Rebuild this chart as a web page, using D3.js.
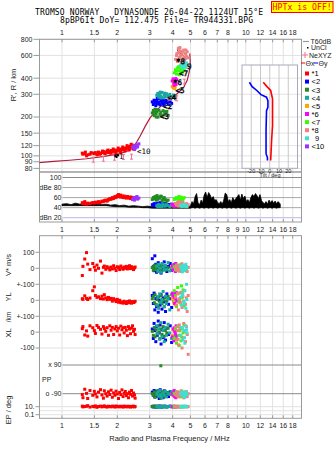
<!DOCTYPE html>
<html>
<head>
<meta charset="utf-8">
<script src="https://cdn.jsdelivr.net/npm/d3@7"></script>
<style>
  body { margin: 0; background: #fff; }
  svg { display: block; font-family: "Liberation Sans", Arial, sans-serif; }
  .mono { font-family: "DejaVu Sans Mono", monospace; white-space: pre; }
</style>
</head>
<body>
<div id="chart"></div>
<script>
// ---- data ----
const titleLine1 = "TROMSO NORWAY   DYNASONDE 26-04-22 1124UT 15°E";
const titleLine2 = "8pBP6It DoY= 112.475 File= TR944331.BPG";

const freqTicks = [1, 1.5, 2, 3, 4, 5, 6, 7, 8, 9, 10, 12, 14, 16, 18];
const freqLabels = ["1", "1.5", "2", "3", "4", "5", "6", "7", "8", "", "10", "12", "14", "16", "18"];
const freqLabelsMid = ["1", "1.5", "2", "3", "4", "5", "6", "7", "8", "9", "10", "12", "14", "16", "18"];
const heightTicks = [80, 90, 100, 120, 150, 200, 300, 400, 600, 800];
const dbTicks = [100, 80, 60, 40, 20];
const dbLabels = ["100", "dBe 80", "60", "40", "dBn 20"];
const tiltTicks = [-20, -10, 0, 10, 20];

const modeNames = ["*1", "<2", "<3", "<4", "<5", "*6", "<7", "*8", "9", "<10"];
const modeColors = ["#ff0000", "#0000ff", "#228b22", "#17a6a0", "#ffa500", "#ff00ff", "#33ff00", "#f08080", "#40e0d0", "#9933ff"];

// echoes: [freq MHz, R' km, dB, V* m/s, YL km, XL km, PP deg, EP deg]
// (short entries carry only freq, R' and dB)
const echo1 = [
  [1.29, 105, 50, -45, 10, 22, -95, 14], [1.30, 103, 48, 12, 6, 35, -115, 9],
  [1.33, 104, 52, 58, 28, -18, -62, 11], [1.36, 100, 47, 98, 12, 8, -88, 13],
  [1.38, 102, 49, 26, 5, -25, -120, 18], [1.42, 103, 48, -8, 14, 40, -70, 8],
  [1.47, 105, 50, 30, 60, 28, -100, 12], [1.50, 104, 49, 8, 84, 10, -75, 10],
  [1.52, 106, 51, -12, 30, -8, -92, 16], [1.55, 102, 50, 20, 18, 42, -110, 7],
  [1.58, 107, 52, 0, 22, 30, -80, 11], [1.62, 104, 51, 45, 10, 18, -65, 14],
  [1.65, 106, 53, -30, 26, -12, -98, 9], [1.68, 108, 52, 6, 8, 35, -118, 12],
  [1.70, 105, 54, 14, 35, 22, -72, 16], [1.73, 107, 55, -6, 15, 5, -90, 10],
  [1.76, 109, 53, 10, 4, 28, -105, 8], [1.79, 106, 56, 2, 18, -20, -78, 13],
  [1.82, 108, 58, -10, 6, 40, -95, 11], [1.85, 110, 57, 8, 12, 12, -68, 9],
  [1.88, 107, 60, -4, -5, 30, -112, 14], [1.91, 109, 59, 16, 10, -15, -85, 12],
  [1.94, 111, 62, 0, 2, 20, -100, 8], [1.97, 108, 61, -14, -8, 35, -74, 15],
  [2.00, 110, 64, 10, 6, 8, -92, 10], [2.03, 112, 66, 4, -12, 25, -120, 12],
  [2.06, 109, 63, -8, 0, -18, -82, 9], [2.09, 113, 65, 14, -15, 38, -96, 13],
  [2.12, 111, 62, 2, -10, 15, -66, 11], [2.15, 114, 60, -6, -18, 28, -108, 8],
  [2.18, 112, 63, 8, -6, -5, -88, 14], [2.21, 115, 61, 0, -14, 30, -76, 10],
  [2.24, 113, 59, 12, -20, 12, -102, 12], [2.27, 116, 62, -4, -8, -22, -90, 9],
  [2.30, 118, 60, 6, -16, 35, -115, 13], [2.33, 114, 61, 16, -4, 20, -80, 11],
  [2.36, 119, 58, -2, -12, -10, -94, 8], [2.39, 117, 60, 10, -18, 25, -70, 12],
  [2.42, 121, 59, 4, -8, 40, -105, 10], [2.45, 116, 57, -8, -14, 5, -86, 14],
  [2.48, 120, 60, 2, -10, 18, -98, 9], [2.50, 118, 58, 8, -6, -15, -118, 11],
  [1.34, 107, 48], [1.44, 106, 49], [1.60, 103, 50], [1.66, 109, 52], [1.72, 104, 54],
  [1.78, 111, 55], [1.84, 105, 57], [1.90, 113, 58], [1.96, 106, 60], [2.02, 115, 62],
  [2.08, 107, 61], [2.14, 117, 63], [2.20, 109, 60], [2.26, 120, 62], [2.32, 111, 59],
  [2.38, 123, 61], [2.44, 113, 58]
];
const echo2 = [
  [3.10, 262, 46, 60, 30, 20, -80, 12], [3.14, 250, 44, 10, -20, -40, -100, 9],
  [3.17, 270, 48, -15, 45, 55, -70, 14], [3.20, 258, 45, 78, -60, 10, -110, 11],
  [3.24, 245, 47, 25, 10, -60, -90, 8], [3.27, 266, 43, -25, -40, 35, -75, 13],
  [3.30, 255, 49, 5, 20, -20, -105, 10], [3.34, 276, 46, 35, -75, 70, -88, 12],
  [3.38, 260, 44, -10, 0, -5, -120, 9], [3.42, 248, 50, 15, -30, 45, -65, 15],
  [3.46, 268, 45, -30, 35, -75, -95, 11], [3.50, 256, 47, 20, -55, 15, -82, 8],
  [3.55, 272, 43, -5, 15, -35, -115, 12], [3.60, 252, 46, 40, -10, 60, -72, 10],
  [3.66, 264, 48, 0, -70, -50, -98, 13], [3.72, 258, 44, -20, 40, 25, -85, 9],
  [3.80, 250, 46, 12, -25, -15, -108, 11], [3.88, 262, 45, 30, 10, 40, -78, 14],
  [3.95, 255, 47, -12, -45, -65, -92, 10],
  [3.22, 268, 45], [3.36, 252, 47], [3.52, 262, 44], [3.68, 270, 46], [3.84, 258, 45],
  [3.30, 280, 44], [3.58, 246, 48]
];
const echo3 = [
  [3.10, 215, 56, 5, 10, 5, -90, 10], [3.14, 225, 60, -12, 25, -20, -100, 12],
  [3.18, 205, 58, 18, -15, 30, -78, 9], [3.21, 230, 62, 0, 35, -30, -112, 13],
  [3.25, 212, 55, -8, -25, 15, -85, 11], [3.29, 220, 64, 22, 5, -10, -95, 8],
  [3.33, 200, 57, -20, -35, 40, -70, 14], [3.37, 226, 61, 8, 20, 0, -105, 10],
  [3.41, 210, 59, -4, -10, -40, -88, 12], [3.45, 218, 63, 14, 30, 20, -118, 9],
  [3.50, 203, 54, -15, -20, -15, -80, 11], [3.55, 224, 58, 10, 0, 35, -98, 13],
  [3.60, 208, 60, -2, -40, -25, -74, 10], [3.65, 214, 56, 16, 15, 10, -108, 12],
  [3.72, 221, 53, -10, -5, -5, -90, 9], [3.78, 206, 55, 4, 25, 25, -82, 11],
  [3.16, 218, 59], [3.31, 228, 57], [3.47, 206, 62], [3.62, 220, 55], [3.26, 200, 60]
];
const echo4 = [
  [3.28, 295, 44, 12, -30, 40, -92, 10], [3.32, 305, 42, -18, 20, -10, -80, 12],
  [3.36, 285, 46, 25, -50, 20, -105, 9], [3.40, 300, 43, 0, 40, -45, -70, 13],
  [3.45, 290, 45, -25, -15, 60, -96, 11], [3.50, 310, 42, 30, 5, -30, -115, 8],
  [3.55, 282, 47, 8, 55, 10, -85, 14], [3.60, 298, 44, -12, -40, -60, -100, 10],
  [3.65, 288, 43, 18, 25, 30, -75, 12], [3.70, 303, 46, -6, -20, -20, -110, 9],
  [3.78, 292, 44, 36, 10, 50, -88, 11], [3.86, 300, 42, -16, -60, -5, -95, 13],
  [3.95, 286, 45, 4, 35, -40, -78, 10], [4.05, 296, 43, 22, -5, 15, -102, 12],
  [4.15, 290, 44, -8, 45, -25, -86, 9],
  [3.34, 294, 45], [3.48, 282, 43], [3.62, 306, 44], [3.42, 312, 42]
];
const echo5 = [
  [3.98, 345, 45, 10, 10, -20, -90, 10], [4.02, 338, 44, -5, 25, 15, -100, 12],
  [4.06, 350, 46, 20, -15, -35, -80, 9], [4.10, 332, 45, 0, 5, 30, -95, 11],
  [4.13, 342, 44, -15, -30, 0, -110, 10]
];
const echo6 = [
  [3.98, 380, 46, 15, 45, -30, -88, 11], [4.02, 395, 44, -10, 30, 20, -98, 9],
  [4.06, 365, 47, 5, 40, -55, -76, 13], [4.10, 388, 45, 25, -20, 5, -108, 10],
  [4.14, 372, 43, -20, 35, -10, -92, 12], [4.18, 358, 46, 0, 50, 40, -84, 9],
  [4.21, 390, 44, 12, -5, -25, -102, 11], [4.08, 352, 45, -5, 20, 25, -70, 12],
  [4.16, 398, 47, 30, 10, -45, -115, 10]
];
const echo7 = [
  [4.08, 440, 56, 10, 60, -40, -88, 11], [4.14, 465, 58, -8, 30, 20, -96, 9],
  [4.20, 430, 60, 20, -40, -70, -78, 13], [4.26, 480, 57, 0, 80, 35, -105, 10],
  [4.32, 455, 62, -15, -10, -20, -90, 12], [4.38, 495, 59, 5, 45, 10, -82, 9],
  [4.44, 445, 61, 25, -25, -55, -110, 11], [4.50, 470, 55, -10, 15, 25, -75, 13],
  [4.56, 488, 58, 12, 65, -5, -98, 10], [4.62, 460, 60, -5, -35, 45, -86, 12],
  [4.35, 425, 56, 18, 5, -85, -100, 9], [4.47, 500, 57, -20, 90, -30, -92, 11],
  [4.18, 455, 58], [4.30, 490, 57], [4.42, 470, 60], [4.54, 445, 56]
];
const echo8 = [
  [4.15, 560, 48, 8, 20, 30, -90, 10], [4.20, 600, 45, -12, -30, -50, -100, 12],
  [4.25, 540, 50, 20, 40, 10, -78, 9], [4.30, 630, 44, 0, -60, -80, -110, 13],
  [4.35, 580, 52, -18, 10, 45, -86, 11], [4.40, 650, 46, 12, -15, -20, -96, 8],
  [4.45, 530, 49, -6, 50, 20, -72, 12], [4.50, 610, 43, 28, -45, -100, -104, 10],
  [4.55, 570, 51, 4, 25, -35, -88, 11], [4.60, 660, 45, -14, -5, 55, -116, 9],
  [4.65, 550, 47, 16, 60, 5, -82, 13], [4.70, 620, 44, -4, -25, -60, -94, 10],
  [4.75, 590, 48, 10, 15, 35, -76, 12], [4.80, 640, 42, -20, -70, -15, -108, 9],
  [4.86, 575, 46, 6, 30, -140, -90, 11], [4.38, 690, 44, 2, -10, 25, -98, 10],
  [4.28, 545, 50, -8, 45, -45, -84, 12],
  [4.22, 620, 47], [4.32, 560, 45], [4.42, 600, 49], [4.52, 640, 44], [4.62, 580, 46],
  [4.72, 660, 45], [4.30, 680, 43]
];
const echo9 = [
  [4.42, 500, 44, 10, 20, -20, -92, 10], [4.48, 515, 42, -8, -30, 30, -80, 12],
  [4.54, 490, 46, 18, 45, -50, -104, 9], [4.60, 520, 43, 0, -10, 10, -88, 11],
  [4.66, 505, 45, -15, 60, -70, -112, 13], [4.72, 485, 42, 25, -50, 40, -76, 10],
  [4.78, 512, 44, 5, 5, -5, -96, 12], [4.52, 480, 43, -22, 30, 25, -84, 9],
  [4.64, 495, 46, 12, -20, -35, -100, 11], [4.76, 525, 43, -4, 100, 15, -90, 10]
];
const echo10 = [
  [2.42, 116, 56], [2.46, 120, 60], [2.50, 114, 58], [2.54, 122, 61],
  [2.58, 118, 57], [2.62, 124, 59], [2.48, 112, 55], [2.56, 117, 62]
];
const echoes = [echo1, echo2, echo3, echo4, echo5, echo6, echo7, echo8, echo9, echo10];

// one stray echo in the polarization row
const strayPP = [[3.45, 85]];

// mode labels placed on the traces
const labelText = ["*1", "<2", "<3", "<4", "<5", "*6", "<7", "*8", "9", "<10"];
const labelF = [1.93, 3.54, 3.41, 3.74, 4.14, 4.02, 4.33, 4.17, 4.79, 2.56];
const labelH = [99, 243, 205, 286, 322, 372, 437, 547, 497, 109];

// true height profile
const profF = [0.75, 0.9, 1.1, 1.36, 1.7, 2.07, 2.35, 2.45, 2.55, 2.66, 2.84, 3.02, 3.3, 3.57, 3.9, 4.23, 4.6, 4.8, 4.9, 4.97, 4.99, 4.96];
const profH = [88.5, 90.5, 92.5, 95, 99, 104, 111, 118, 128, 142, 170, 198, 228, 254, 280, 303, 341, 385, 433, 480, 518, 620];
const topsideF = [4.22, 4.78];
const topsideH = [665, 560];

// NeXYZ points and unclassified echoes
const neF = [1.48, 1.68, 1.93, 2.16, 2.39, 4.21, 4.63];
const neH = [93.4, 95.1, 96.8, 97.9, 98.6, 279, 376];
const unclF = [1.95, 1.98, 2.02];
const unclH = [100, 98, 101];

// tilt profiles
const thetaXH = [372, 344, 321, 277, 224, 172, 131, 92];
const thetaX = [-7, -3, 1, 3, 3, 3, 2, 1];
const thetaYH = [372, 344, 321, 298, 285, 268, 238, 224, 157, 104, 97, 92];
const thetaY = [-22, -19, -14, -9.5, -3.5, -2, -2, -3.5, -4, -4, -2.5, -2.5];

// receiver amplitude trace
const noiseF = [1.00, 1.06, 1.12, 1.18, 1.25, 1.32, 1.40, 1.48, 1.56, 1.65, 1.74, 1.84, 1.95, 2.06, 2.18, 2.31, 2.45, 2.60, 2.75, 2.92, 3.10, 3.30, 3.50, 3.70, 3.92, 4.15, 4.40, 4.65, 4.90,
  5.00, 5.10, 5.20, 5.30, 5.40, 5.50, 5.61, 5.72, 5.82, 5.93, 6.05, 6.16, 6.28, 6.40, 6.52, 6.65, 6.77, 6.90, 7.03, 7.17, 7.31, 7.45, 7.59, 7.73, 7.88, 8.03, 8.18, 8.34, 8.50, 8.66, 8.83,
  9.00, 9.17, 9.35, 9.52, 9.70, 9.89, 10.08, 10.27, 10.46, 10.66, 10.87, 11.08, 11.29, 11.50, 11.72, 11.95, 12.18, 12.41, 12.65, 12.89, 13.13, 13.38, 13.64, 13.90, 14.17, 14.44, 14.71, 14.99, 15.27, 15.4];
const noiseHi = [47, 48, 46, 49, 47, 48, 46, 48, 47, 46, 47, 45, 46, 44, 45, 43, 44, 43, 42, 43, 42, 43, 42, 44, 42, 43, 42, 44, 42,
  44, 52, 48, 62, 68, 50, 46, 55, 49, 64, 71, 60, 70, 65, 58, 62, 54, 56, 50, 48, 52, 47, 55, 69, 66, 52, 56, 50, 60, 54, 58,
  62, 66, 55, 67, 58, 63, 52, 56, 50, 60, 66, 62, 68, 64, 58, 66, 54, 50, 48, 52, 47, 55, 50, 54, 49, 53, 48, 52, 49, 47];
const noiseLo = [44, 44, 44, 44, 44, 44, 44, 44, 44, 44, 44, 43, 42, 42, 42, 41, 41, 41, 40, 40, 39, 39, 39, 39, 39, 39, 39, 39, 39,
  39, 40, 40, 39, 40, 40, 39, 40, 40, 39, 40, 40, 39, 40, 40, 39, 40, 40, 39, 40, 40, 39, 40, 40, 39, 40, 40, 39, 40, 40, 39,
  40, 40, 39, 40, 40, 39, 40, 40, 39, 40, 40, 39, 40, 40, 39, 40, 40, 39, 40, 40, 39, 40, 40, 39, 40, 40, 39, 40, 40, 40];

class Ionogram {
  constructor(id) {
    this.id = id;
    this.width = 335;
    this.height = 451;
    this.left = 39.5;
    this.right = 301.5;
    this.draw();
  }

  draw() {
    const L = this.left, R = this.right;
    const grid = "#e2e2e2", frame = "#9a9a9a", ink = "#222";

    const svg = d3.select("#" + this.id).append("svg")
        .attr("width", this.width).attr("height", this.height);

    // scales
    const x = d3.scaleLog().domain([0.7545, 20.1]).range([L, R]);
    const yH = d3.scaleLog().domain([75, 800]).range([172, 39.3]);
    const yDb = d3.scaleLinear().domain([20, 100]).range([217.7, 177.5]);
    const yV = d3.scaleLinear().domain([-100, 100]).range([284.3, 252.3]);
    const yYL = d3.scaleLinear().domain([-100, 100]).range([316.3, 284.3]);
    const yXL = d3.scaleLinear().domain([-100, 100]).range([348, 316.3]);
    const yPP = d3.scaleLinear().domain([-90, 90]).range([393.7, 365]);
    const yEP = d3.scaleLog().domain([0.1, 10]).range([414.7, 406.7]);
    const xTilt = d3.scaleLinear().domain([-30, 30]).range([242, 297.5]);

    const panels = [[39.3, 172], [172, 222], [235.7, 418.3]];

    // header
    svg.append("text").attr("class", "mono").attr("x", 35).attr("y", 14.8)
        .attr("textLength", 228).attr("font-size", 8).text(titleLine1);
    svg.append("text").attr("class", "mono").attr("x", 60).attr("y", 23)
        .attr("textLength", 193).attr("font-size", 8).text(titleLine2);
    svg.append("rect").attr("x", 271.5).attr("y", 1.5).attr("width", 61.5).attr("height", 11)
        .attr("fill", "#ffff00").attr("stroke", "#ff0000");
    svg.append("text").attr("class", "mono").attr("x", 302.2).attr("y", 10.3)
        .attr("text-anchor", "middle").attr("font-size", 8.2).attr("fill", "#ff0000")
        .text("HPTx is OFF!");

    // vertical frequency grid through all panels
    panels.forEach(([t, b]) => {
      svg.append("g").selectAll("line").data(freqTicks).enter().append("line")
          .attr("x1", d => x(d)).attr("x2", d => x(d)).attr("y1", t).attr("y2", b)
          .attr("stroke", grid);
    });

    // height grid + axis
    const hAxis = svg.append("g");
    hAxis.selectAll("line.g").data(heightTicks).enter().append("line")
        .attr("x1", L).attr("x2", R).attr("y1", d => yH(d)).attr("y2", d => yH(d))
        .attr("stroke", grid);
    hAxis.selectAll("line.t").data(heightTicks).enter().append("line")
        .attr("x1", L - 6).attr("x2", L).attr("y1", d => yH(d)).attr("y2", d => yH(d))
        .attr("stroke", frame);
    hAxis.selectAll("text").data(heightTicks).enter().append("text")
        .attr("x", L - 7).attr("y", d => yH(d) + 2.4).attr("text-anchor", "end")
        .attr("font-size", 7).attr("fill", ink).text(d => d);

    // dB panel lines
    svg.append("g").selectAll("line").data(dbTicks).enter().append("line")
        .attr("x1", 62.5).attr("x2", R).attr("y1", d => yDb(d)).attr("y2", d => yDb(d))
        .attr("stroke", d => d === 20 ? "#b9b9e6" : (d === 100 ? "#8a8a8a" : "#a8a8a8"));
    svg.append("g").selectAll("text").data(dbTicks).enter().append("text")
        .attr("x", 61.5).attr("y", d => yDb(d) + 2.4).attr("text-anchor", "end")
        .attr("font-size", 7).attr("fill", ink).text((d, i) => dbLabels[i]);

    // lower panel grid
    const lowerRows = [
      [yV(100), "100"], [yV(0), "0"], [yYL(100), "+-100"], [yYL(0), "0"],
      [yXL(100), "+-100"], [yXL(0), "0"], [yXL(-100), "-100"],
      [yEP(10), "10."], [yEP(1), ""], [yEP(0.1), "0.1"]
    ];
    const low = svg.append("g");
    low.selectAll("line.g").data(lowerRows).enter().append("line")
        .attr("x1", L).attr("x2", R).attr("y1", d => d[0]).attr("y2", d => d[0])
        .attr("stroke", grid);
    low.selectAll("line.t").data(lowerRows.filter(d => d[1])).enter().append("line")
        .attr("x1", L - 4).attr("x2", L).attr("y1", d => d[0]).attr("y2", d => d[0])
        .attr("stroke", frame);
    low.selectAll("text").data(lowerRows).enter().append("text")
        .attr("x", L - 5).attr("y", d => d[0] + 2.4).attr("text-anchor", "end")
        .attr("font-size", 7).attr("fill", ink).text(d => d[1]);
    [[90, "x 90"], [-90, "o -90"]].forEach(([v, s]) => {
      svg.append("line").attr("x1", 62.5).attr("x2", R).attr("y1", yPP(v)).attr("y2", yPP(v))
          .attr("stroke", "#8a8a8a");
      svg.append("text").attr("x", 61.5).attr("y", yPP(v) + 2.4).attr("text-anchor", "end")
          .attr("font-size", 7).attr("fill", ink).text(s);
    });
    svg.append("text").attr("x", 42).attr("y", 382).attr("font-size", 7).attr("fill", ink).text("PP");

    // frames
    panels.forEach(([t, b]) => {
      svg.append("rect").attr("x", L).attr("y", t).attr("width", R - L).attr("height", b - t)
          .attr("fill", "none").attr("stroke", frame);
    });

    // frequency axes: top, middle, bottom
    const freqAxis = (yTick, dir, yText, labels) => {
      const g = svg.append("g");
      g.selectAll("line").data(freqTicks).enter().append("line")
          .attr("x1", d => x(d)).attr("x2", d => x(d))
          .attr("y1", yTick).attr("y2", yTick + dir * 3).attr("stroke", frame);
      g.selectAll("text").data(freqTicks).enter().append("text")
          .attr("x", d => x(d)).attr("y", yText).attr("text-anchor", "middle")
          .attr("font-size", 7).attr("fill", ink).text((d, i) => labels[i]);
    };
    freqAxis(39.3, 1, 35, freqLabels);
    freqAxis(222, -1, 231.8, freqLabelsMid);
    freqAxis(235.7, 1, 231.8, freqLabelsMid.map(() => ""));
    freqAxis(418.3, -1, 428, freqLabels);

    // axis titles
    const rot = (tx, ty, s, fs) => svg.append("text")
        .attr("transform", `translate(${tx},${ty}) rotate(-90)`)
        .attr("text-anchor", "middle").attr("font-size", fs).attr("fill", ink).text(s);
    rot(15.5, 85, "R', R / km", 7.5);
    rot(10.5, 265, "V* m/s", 7.5);
    rot(10.5, 297, "YL", 7.5);
    rot(10.5, 317, "/km", 6.5);
    rot(10.5, 333, "XL", 7.5);
    rot(10.5, 410, "EP / deg", 7.5);
    svg.append("text").attr("x", 169.5).attr("y", 441).attr("text-anchor", "middle")
        .attr("font-size", 7.5).attr("fill", ink).text("Radio and Plasma Frequency / MHz");

    // amplitude trace
    const noise = noiseF.map((f, i) => [f, noiseHi[i], noiseLo[i]]);
    svg.append("path").datum(noise)
        .attr("d", d3.area().x(d => x(d[0])).y0(d => yDb(d[2])).y1(d => yDb(d[1])))
        .attr("fill", "#000").attr("stroke", "#000").attr("stroke-width", 0.8);

    // clip regions
    const defs = svg.append("defs");
    defs.append("clipPath").attr("id", "clipTop").append("rect")
        .attr("x", L).attr("y", 39.3).attr("width", R - L).attr("height", 172 - 39.3);
    defs.append("clipPath").attr("id", "clipLow").append("rect")
        .attr("x", L).attr("y", 235.7).attr("width", R - L).attr("height", 418.3 - 235.7);

    const top = svg.append("g").attr("clip-path", "url(#clipTop)");
    const lower = svg.append("g").attr("clip-path", "url(#clipLow)");

    // profile
    const prof = profF.map((f, i) => [f, profH[i]]);
    top.append("path").datum(prof)
        .attr("d", d3.line().x(d => x(d[0])).y(d => yH(d[1])))
        .attr("fill", "none").attr("stroke", "#b01c3c").attr("stroke-width", 1.2);
    top.append("path").datum(topsideF.map((f, i) => [f, topsideH[i]]))
        .attr("d", d3.line().x(d => x(d[0])).y(d => yH(d[1])))
        .attr("fill", "none").attr("stroke", "#5a0a10").attr("stroke-width", 1);

    // echoes
    const sq = 3;
    echoes.forEach((pts, m) => {
      const c = modeColors[m];
      top.append("g").selectAll("rect").data(pts).enter().append("rect")
          .attr("x", d => x(d[0]) - sq / 2).attr("y", d => yH(d[1]) - sq / 2)
          .attr("width", sq).attr("height", sq).attr("fill", c);
      svg.append("g").selectAll("rect").data(pts).enter().append("rect")
          .attr("x", d => x(d[0]) - sq / 2).attr("y", d => yDb(d[2]) - sq / 2)
          .attr("width", sq).attr("height", sq).attr("fill", c);
      const full = pts.filter(d => d.length > 3);
      [[3, yV], [4, yYL], [5, yXL], [6, yPP], [7, yEP]].forEach(([k, sc]) => {
        lower.append("g").selectAll("rect").data(full).enter().append("rect")
            .attr("x", d => x(d[0]) - sq / 2).attr("y", d => sc(d[k]) - sq / 2)
            .attr("width", sq).attr("height", sq).attr("fill", c);
      });
    });
    lower.selectAll("rect.stray").data(strayPP).enter().append("rect")
        .attr("x", d => x(d[0]) - 1.5).attr("y", d => yPP(d[1]) - 1.5)
        .attr("width", 3).attr("height", 3).attr("fill", modeColors[2]);

    // NeXYZ markers
    top.append("g").selectAll("path").data(neF).enter().append("path")
        .attr("d", (f, i) => {
          const px = x(f), py = yH(neH[i]);
          return `M${px - 1.5},${py - 2.5}h3M${px},${py - 2.5}v5M${px - 1.5},${py + 2.5}h3`;
        })
        .attr("stroke", "#f0709a").attr("fill", "none");
    top.append("g").selectAll("rect").data(unclF).enter().append("rect")
        .attr("x", f => x(f) - 1).attr("y", (f, i) => yH(unclH[i]) - 1)
        .attr("width", 2).attr("height", 2).attr("fill", "#000");

    // mode labels
    top.append("g").selectAll("text").data(labelText).enter().append("text")
        .attr("x", (d, i) => x(labelF[i])).attr("y", (d, i) => yH(labelH[i]) + 3)
        .attr("font-family", "DejaVu Sans Mono, monospace").attr("font-size", 7.5)
        .attr("fill", (d, i) => labelF[i] < 3 ? "#000" : "#fff")
        .attr("stroke", (d, i) => labelF[i] < 3 ? "none" : "#000")
        .attr("stroke-width", 0.6)
        .text(d => d);

    // tilt inset
    const inset = svg.append("g");
    inset.append("rect").attr("x", 242).attr("y", 65).attr("width", 55.5).attr("height", 103.3)
        .attr("fill", "#fff");
    inset.selectAll("line.h").data(heightTicks.filter(h => yH(h) > 66 && yH(h) < 167)).enter()
        .append("line").attr("x1", 242).attr("x2", 297.5)
        .attr("y1", d => yH(d)).attr("y2", d => yH(d)).attr("stroke", grid);
    inset.selectAll("line.v").data(tiltTicks).enter().append("line")
        .attr("x1", d => xTilt(d)).attr("x2", d => xTilt(d)).attr("y1", 65).attr("y2", 168.3)
        .attr("stroke", "#c8c8c8");
    inset.append("rect").attr("x", 242).attr("y", 65).attr("width", 55.5).attr("height", 103.3)
        .attr("fill", "none").attr("stroke", "#aab");
    inset.append("path").datum(thetaY.map((t, i) => [t, thetaYH[i]]))
        .attr("d", d3.line().x(d => xTilt(d[0])).y(d => yH(d[1])))
        .attr("fill", "none").attr("stroke", "#0000ff").attr("stroke-width", 1.6);
    inset.append("path").datum(thetaX.map((t, i) => [t, thetaXH[i]]))
        .attr("d", d3.line().x(d => xTilt(d[0])).y(d => yH(d[1])))
        .attr("fill", "none").attr("stroke", "#ff0000").attr("stroke-width", 1.6);
    inset.selectAll("text").data(tiltTicks).enter().append("text")
        .attr("x", d => xTilt(d)).attr("y", 172.5).attr("text-anchor", "middle")
        .attr("font-size", 5.5).attr("fill", ink).text(d => d);
    inset.append("text").attr("x", 270).attr("y", 177).attr("text-anchor", "middle")
        .attr("font-size", 5.5).attr("fill", ink).text("Tilt / deg");

    // legend
    const lg = svg.append("g").attr("font-size", 7).attr("fill", ink);
    lg.append("line").attr("x1", 303).attr("x2", 309).attr("y1", 41.5).attr("y2", 41.5)
        .attr("stroke", "#999").attr("stroke-width", 1.2);
    lg.append("text").attr("x", 310.5).attr("y", 44).text("T60dB");
    lg.append("rect").attr("x", 307).attr("y", 47).attr("width", 1.5).attr("height", 1.5).attr("fill", "#000");
    lg.append("text").attr("x", 311).attr("y", 50.3).text("UnCl");
    lg.append("path").attr("d", "M302,55h6M305,52v6").attr("stroke", "#f0709a");
    lg.append("text").attr("x", 309).attr("y", 57.6).text("NeXYZ");
    lg.append("line").attr("x1", 301).attr("x2", 305).attr("y1", 63).attr("y2", 63).attr("stroke", "#ff0000");
    lg.append("text").attr("x", 305.5).attr("y", 65.8).text("Θx");
    lg.append("line").attr("x1", 314).attr("x2", 318).attr("y1", 63).attr("y2", 63).attr("stroke", "#0000ff");
    lg.append("text").attr("x", 318.5).attr("y", 65.8).text("Θy");
    lg.selectAll("rect.m").data(modeNames).enter().append("rect")
        .attr("x", 305).attr("y", (d, i) => 71.5 + i * 8.1).attr("width", 4).attr("height", 4)
        .attr("fill", (d, i) => modeColors[i]);
    lg.selectAll("text.m").data(modeNames).enter().append("text")
        .attr("x", d => d.length === 1 ? 315 : 311.5).attr("y", (d, i) => 76.3 + i * 8.1)
        .attr("font-size", 7.5).attr("fill", "#000").text(d => d);
  }
}

new Ionogram("chart");
</script>
</body>
</html>
